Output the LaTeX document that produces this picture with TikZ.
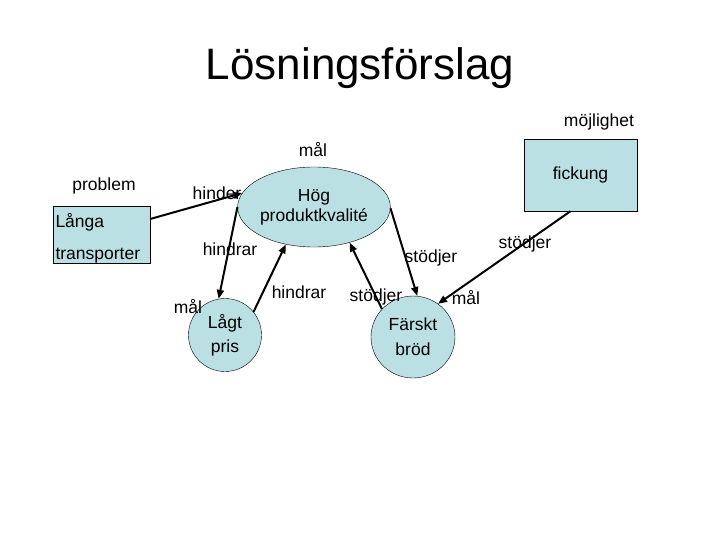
\documentclass[tikz,border=0pt]{standalone}
\usepackage{fontspec}
\setmainfont{Liberation Sans}
\usetikzlibrary{arrows.meta, shapes.geometric, positioning}

\definecolor{paleblue}{RGB}{187,224,227}

\begin{document}
\begin{tikzpicture}[
  x=1pt, y=-1pt,
  every node/.style={font=\fontsize{17.5}{21}\selectfont},
  box/.style={rectangle, draw=black, fill=paleblue, inner sep=2pt},
  goal/.style={ellipse, draw=black, fill=paleblue, inner sep=0pt, align=center},
  lbl/.style={inner sep=0pt},
  arrow/.style={-{Triangle[length=9pt, width=7pt]}, line width=2pt}
]
\useasboundingbox (0,0) rectangle (720,540);

% Title
\node[lbl, font=\fontsize{44}{50}\selectfont] (title) at (360,68) {Lösningsförslag};

% Problem, goals and possibility
\node[box, inner ysep=0pt, minimum width=97pt, minimum height=56pt, text width=92pt, align=left,
      font=\fontsize{17.5}{32}\selectfont] (transp) at (101.5,235) {\rule{0pt}{21pt}Långa\\transporter};
\node[goal, minimum width=116pt, minimum height=80pt,
      font=\fontsize{17.5}{20}\selectfont] (quality) at (314,207) {Hög\\produktkvalité};
\node[goal, minimum width=73pt, minimum height=73pt,
      font=\fontsize{17.5}{24}\selectfont] (price) at (225,335) {Lågt\\pris};
\node[goal, minimum width=84pt, minimum height=82pt,
      font=\fontsize{17.5}{25}\selectfont] (bread) at (413,337) {Färskt\\bröd};
\node[box, minimum width=113pt, minimum height=72pt] (pocket) at (580.5,175) {fickung};

% Type labels
\node[lbl] (problemlbl) at (104,186) {problem};
\node[lbl] (qualitylbl) at (313,150) {mål};
\node[lbl] (pricelbl) at (188,307) {mål};
\node[lbl] (breadlbl) at (466,298) {mål};
\node[lbl] (pocketlbl) at (599,122) {möjlighet};

% Relations
\draw[arrow] ([yshift=16pt]transp.east) -- (quality.169);
\draw[arrow] (quality.180) -- (price.100);
\draw[arrow] (price.39) -- (quality.233);
\draw[arrow] (bread.138) -- (quality.315);
\draw[arrow] (quality.359) -- (bread.84);
\draw[arrow] ([xshift=-10pt]pocket.south) -- (bread.53);

% Relation labels
\node[lbl] (hinderlbl) at (217,193) {hinder};
\node[lbl] (hindrarA) at (230,249) {hindrar};
\node[lbl] (hindrarB) at (299,292) {hindrar};
\node[lbl] (stodjerA) at (376,297) {stödjer};
\node[lbl] (stodjerB) at (431,258) {stödjer};
\node[lbl] (stodjerC) at (525,244) {stödjer};

\end{tikzpicture}
\end{document}
